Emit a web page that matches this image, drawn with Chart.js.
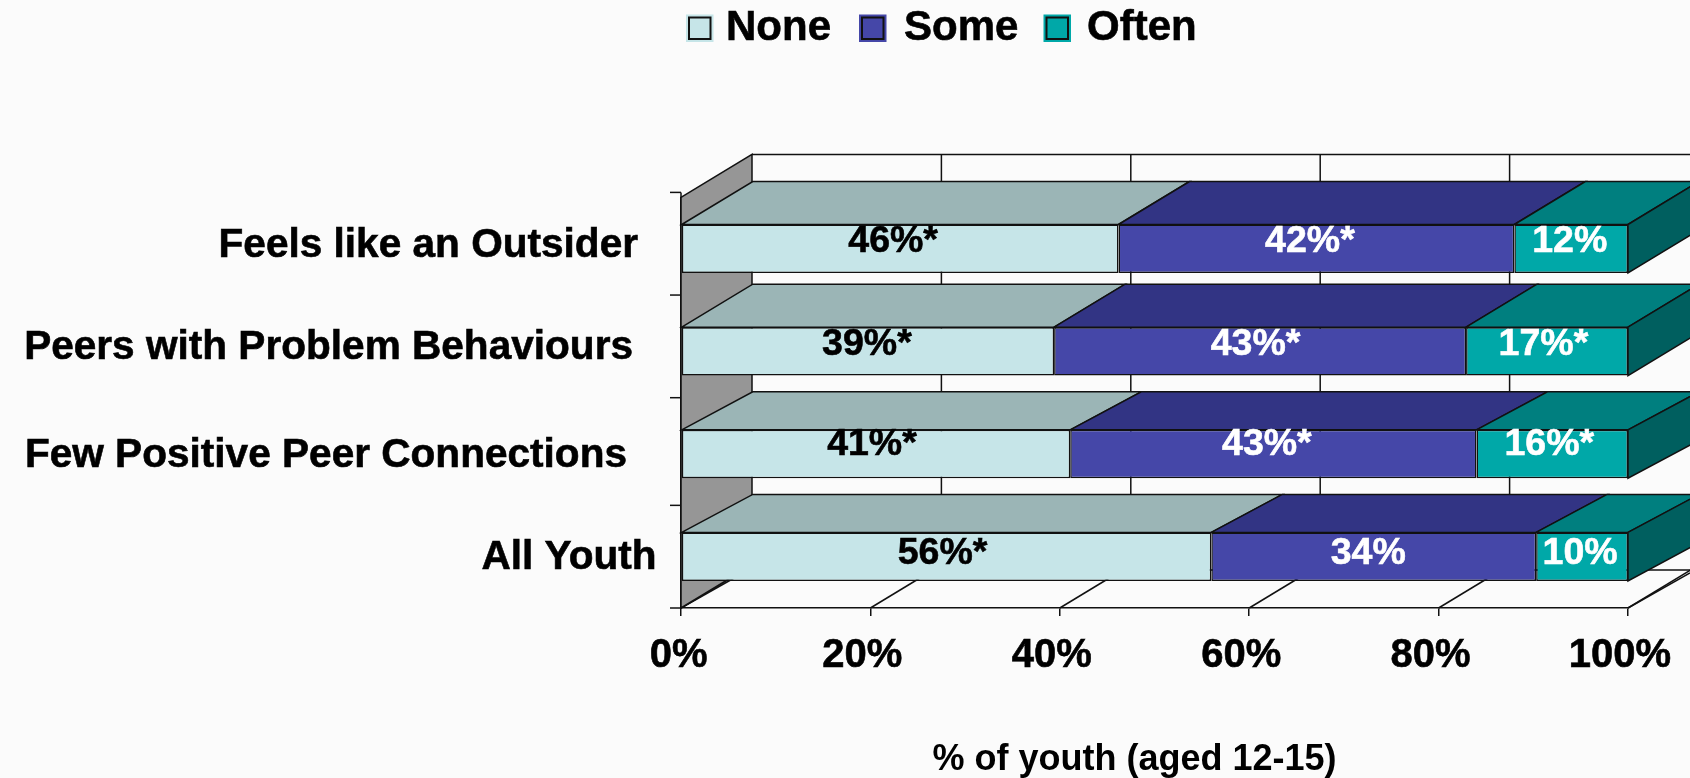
<!DOCTYPE html>
<html>
<head>
<meta charset="utf-8">
<style>
  html, body { margin: 0; padding: 0; background: #fbfbfb; }
  canvas { display: block; }
</style>
</head>
<body>
<canvas id="chart" width="1690" height="778"></canvas>
<script src="https://cdn.jsdelivr.net/npm/chart.js@4/dist/chart.umd.min.js"></script>
<script>
const categories = ['Feels like an Outsider', 'Peers with Problem Behaviours', 'Few Positive Peer Connections', 'All Youth'];
const seriesNames = ['None', 'Some', 'Often'];
const noneValues = [46.2, 39.4, 41.1, 56.0];
const someValues = [41.8, 43.5, 42.9, 34.3];
const oftenValues = [12.0, 17.1, 16.0, 9.7];
const noneLabels = ['46%*', '39%*', '41%*', '56%*'];
const someLabels = ['42%*', '43%*', '43%*', '34%'];
const oftenLabels = ['12%', '17%*', '16%*', '10%'];
const xTickValues = [0, 20, 40, 60, 80, 100];

const FONT = '"Liberation Sans", Arial, sans-serif';
const LINE = '#111111';
const TEXT_WEIGHT = 0.6;

// front / top / side colours of each series
const frontColors = ['#c6e5e8', '#4547a8', '#00a8a8'];
const topColors = ['#9bb5b6', '#323484', '#007f7f'];
const sideColor = '#005f5f';
const wallColor = '#969696';

// 3D depth of the box, the reference is an old Excel "3-D stacked bar"
const DEPTH_X = 71;
const DEPTH_Y = 43;
// the lower two bars have a slightly flatter top face
const barDepthY = [43, 43, 38, 38];

// the original's labels do not sit on the axis in a tidy way
const catLabelGap = [43, 48, 54, 24.5];
const catLabelLift = [-2.7, -3.5, 2, 1.5];
const valueLabelLift = [-7, -7, -9, -3];
const valueLabelShift = [
    [-7, -1, -4, -4],
    [-6.5, -4.5, -6.5, -5.5],
    [-1.4, -3.6, -3, -2]
];
const yTickLift = [-5, -5, -5, 0, 0];
const legendSwatchX = [686, 859, 1043.5];
const legendTextX = [726, 904, 1087];

function poly(ctx, pts, fill) {
    ctx.beginPath();
    pts.forEach((p, i) => { i ? ctx.lineTo(p[0], p[1]) : ctx.moveTo(p[0], p[1]); });
    ctx.closePath();
    if (fill) { ctx.fillStyle = fill; ctx.fill(); }
    ctx.stroke();
}

function seg(ctx, x1, y1, x2, y2) {
    ctx.beginPath();
    ctx.moveTo(x1, y1);
    ctx.lineTo(x2, y2);
    ctx.stroke();
}

function heavyText(ctx, text, x, y, color) {
    ctx.fillStyle = color;
    ctx.strokeStyle = color;
    ctx.lineWidth = TEXT_WEIGHT;
    ctx.strokeText(text, x, y);
    ctx.fillText(text, x, y);
}

const box3d = {
    id: 'box3d',
    // walls, floor and the top/side faces; the front faces are the real bars
    beforeDatasetsDraw(chart) {
        const { ctx, chartArea: a, scales: { x, y } } = chart;
        const backTop = a.top - DEPTH_Y;
        const backBottom = a.bottom - DEPTH_Y;
        ctx.save();
        ctx.strokeStyle = LINE;
        ctx.lineWidth = 1.5;

        // back wall with its gridlines
        seg(ctx, a.left + DEPTH_X, backTop, chart.width, backTop);
        xTickValues.slice(1, -1).forEach(v => {
            const px = x.getPixelForValue(v) + DEPTH_X;
            seg(ctx, px, backTop, px, backBottom);
        });
        // floor
        xTickValues.forEach(v => {
            const px = x.getPixelForValue(v);
            seg(ctx, px, a.bottom, px + DEPTH_X, backBottom);
        });
        [0, 100].forEach(v => {
            const px = x.getPixelForValue(v);
            seg(ctx, px, a.bottom, px + 62, a.bottom - 35);
        });
        seg(ctx, a.left + 63, a.bottom - 38, chart.width, a.bottom - 38);
        // left wall
        poly(ctx, [
            [a.left, a.top], [a.left + DEPTH_X, backTop],
            [a.left + DEPTH_X, backBottom], [a.left, a.bottom]
        ], wallColor);
        // category tick marks, slightly off the boundaries in the original
        yTickLift.forEach((lift, j) => {
            const py = y.getPixelForValue(j - 0.5) + lift;
            seg(ctx, a.left - 11, py, a.left, py);
        });
        seg(ctx, a.left, a.top + yTickLift[0], a.left, a.top);

        chart.data.datasets.forEach((ds, i) => {
            chart.getDatasetMeta(i).data.forEach((bar, j) => {
                const top = bar.y - bar.height / 2;
                const bottom = bar.y + bar.height / 2;
                const dy = barDepthY[j];
                poly(ctx, [
                    [bar.base, top], [bar.base + DEPTH_X, top - dy],
                    [bar.x + DEPTH_X, top - dy], [bar.x, top]
                ], topColors[i]);
                if (i === chart.data.datasets.length - 1) {
                    poly(ctx, [
                        [bar.x, top], [bar.x + DEPTH_X, top - dy],
                        [bar.x + DEPTH_X, bottom - dy], [bar.x, bottom]
                    ], sideColor);
                }
            });
        });
        ctx.restore();
    },
    afterDatasetsDraw(chart) {
        const { ctx, scales: { y } } = chart;
        ctx.save();

        // value labels
        const valueLabels = [noneLabels, someLabels, oftenLabels];
        ctx.font = 'bold 37.5px ' + FONT;
        ctx.textAlign = 'center';
        ctx.textBaseline = 'middle';
        chart.data.datasets.forEach((ds, i) => {
            const color = i === 0 ? '#000000' : '#ffffff';
            chart.getDatasetMeta(i).data.forEach((bar, j) => {
                heavyText(ctx, valueLabels[i][j], (bar.base + bar.x) / 2 + valueLabelShift[i][j], bar.y + valueLabelLift[j], color);
            });
        });

        // category labels
        ctx.font = 'bold 40.6px ' + FONT;
        ctx.textAlign = 'right';
        categories.forEach((c, j) => {
            heavyText(ctx, c, y.left + y.width - catLabelGap[j], y.getPixelForValue(j) + catLabelLift[j], '#000000');
        });

        // legend
        ctx.font = 'bold 42px ' + FONT;
        ctx.textAlign = 'left';
        ctx.textBaseline = 'alphabetic';
        seriesNames.forEach((name, i) => {
            ctx.fillStyle = frontColors[i];
            ctx.fillRect(legendSwatchX[i], 14.5, 27.5, 27.5);
            ctx.strokeStyle = LINE;
            ctx.lineWidth = 2;
            ctx.strokeRect(legendSwatchX[i] + 3, 17.5, 21.5, 21.5);
            heavyText(ctx, name, legendTextX[i], 40, '#000000');
        });
        ctx.restore();
    }
};

new Chart(document.getElementById('chart'), {
    type: 'bar',
    data: {
        labels: categories,
        datasets: [noneValues, someValues, oftenValues].map((values, i) => ({
            label: seriesNames[i],
            data: values,
            backgroundColor: frontColors[i],
            borderColor: LINE,
            borderWidth: 1.5,
            borderSkipped: false,
            barPercentage: 0.472,
            categoryPercentage: 1
        }))
    },
    options: {
        indexAxis: 'y',
        responsive: false,
        animation: false,
        layout: { padding: { top: 197.4, right: 62, left: 0, bottom: 0 } },
        plugins: { legend: { display: false }, tooltip: { enabled: false } },
        scales: {
            x: {
                stacked: true,
                min: 0,
                max: 100,
                afterFit(scale) {
                    scale.height = 170;
                    // otherwise the half width of "100%" eats into the layout padding
                    scale.paddingRight = 0;
                    scale.paddingLeft = 0;
                },
                afterBuildTicks(scale) { scale.ticks = xTickValues.map(v => ({ value: v })); },
                grid: { drawOnChartArea: false, drawTicks: true, tickLength: 8, color: LINE, lineWidth: 1.5 },
                border: { color: LINE, width: 1.5 },
                ticks: {
                    maxRotation: 0,
                    padding: 16,
                    labelOffset: -8,
                    color: '#000000',
                    textStrokeColor: '#000000',
                    textStrokeWidth: TEXT_WEIGHT,
                    font: { family: FONT, size: 40, weight: 'bold' },
                    // the leading space nudges 0% right, it sits closer to its tick
                    callback: v => (v === 0 ? ' 0%' : v + '%')
                },
                title: {
                    display: true,
                    // trailing spaces pull the centred title left, as in the original
                    text: '% of youth (aged 12-15)    ',
                    color: '#000000',
                    font: { family: FONT, size: 36, weight: 'bold' },
                    padding: { top: 0, bottom: -4 }
                }
            },
            y: {
                stacked: true,
                afterFit(scale) { scale.width = 681; },
                grid: { drawOnChartArea: false, drawTicks: false },
                border: { color: LINE, width: 1.5 },
                ticks: { display: false }
            }
        }
    },
    plugins: [box3d]
});
</script>
</body>
</html>
